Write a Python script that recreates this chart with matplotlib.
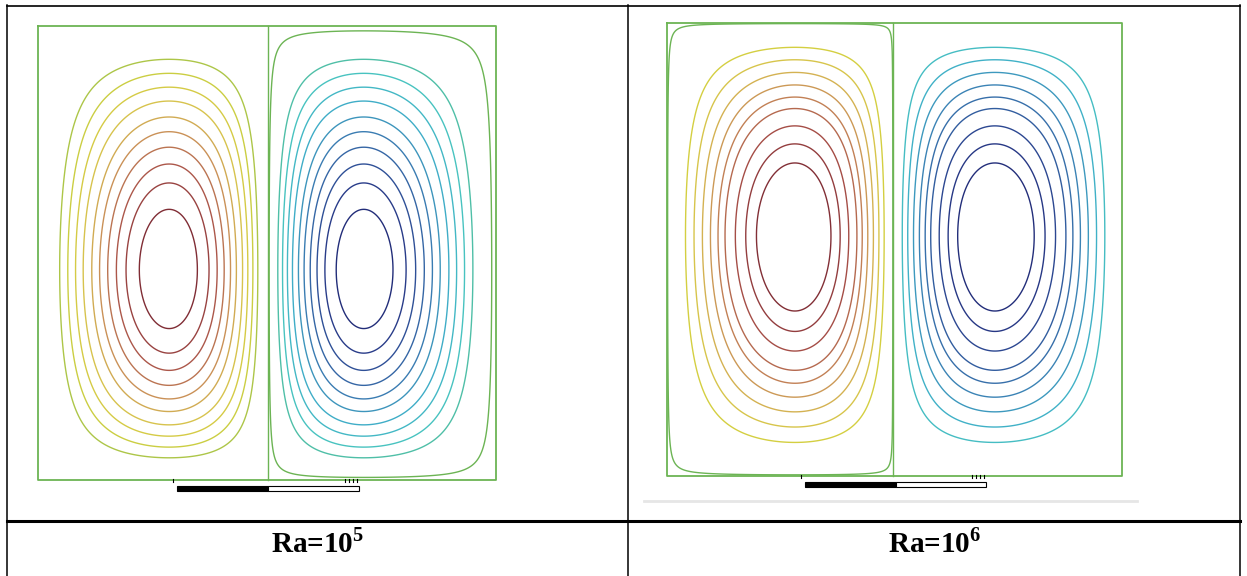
import numpy as np
import matplotlib
matplotlib.use('Agg')
import matplotlib.pyplot as plt
from matplotlib.patches import Rectangle
from matplotlib.colors import LinearSegmentedColormap

plt.rcParams['mathtext.fontset'] = 'custom'
plt.rcParams['mathtext.rm'] = 'Liberation Serif'
plt.rcParams['mathtext.bf'] = 'Liberation Serif:bold'
plt.rcParams['contour.negative_linestyle'] = 'solid'

W, H = 1247, 576

# captions under each picture
labels = ['Ra=10$^{\\mathbf{5}}$', 'Ra=10$^{\\mathbf{6}}$']
label_x = [318, 935]

# picture frames in pixels: left wall, divider, right wall, top, bottom
frames = [(38, 268, 496, 26, 480), (667, 893, 1122, 23, 476)]
# vortex centre as fraction of its half cell (across, down)
centre_hot = [(0.57, 0.537), (0.566, 0.47)]
centre_cold = [(0.42, 0.537), (0.445, 0.47)]
# streamline levels as fraction of max |psi|
levels_1e5 = [0.17, 0.25, 0.33, 0.41, 0.50, 0.58, 0.66, 0.74, 0.82, 0.91]
levels_1e6 = [0.29, 0.39, 0.48, 0.56, 0.63, 0.69, 0.77, 0.84, 0.90]
levels = [levels_1e5, levels_1e6]
# near-wall streamline (the rounded one hugging a cell)
wall_level = [-0.02, 0.02]
# how steep the profile is near the side walls / top-bottom walls
wall_exp_x = [1.0, 0.649]
wall_exp_y = [1.0, 0.8]
# scale bar under each picture: start, middle, end, top (px)
bars = [(177, 268, 359, 486), (805, 896, 986, 482)]

frame_green = '#6cb454'
# muted rainbow as seen in the screenshot
rainbow = LinearSegmentedColormap.from_list('fl', [
    (0.00, '#1c1f6a'), (0.10, '#2a3f8c'), (0.20, '#3a78b0'),
    (0.30, '#3fb0c8'), (0.38, '#48c4c0'), (0.46, '#58b888'),
    (0.50, '#6cb454'), (0.56, '#9cc24c'), (0.64, '#d4d040'),
    (0.72, '#d8c050'), (0.80, '#c88c58'), (0.88, '#a85048'),
    (1.00, '#6a1a2a')])


def stream(frame, hot, cold, a, b):
    x0, xm, x1, y0, y1 = frame
    X, Y = np.meshgrid(np.linspace(x0, x1, 700), np.linspace(y0, y1, 700))
    v = (Y - y0) / (y1 - y0)
    # warm vortex in the left half
    ul = np.clip((X - x0) / (xm - x0), 0, 1)
    ph = np.log(0.5) / np.log(hot[0])
    qh = np.log(0.5) / np.log(hot[1])
    psi_h = np.sin(np.pi * ul ** ph) ** a * np.sin(np.pi * v ** qh) ** b
    # cold vortex in the right half
    ur = np.clip((X - xm) / (x1 - xm), 0, 1)
    pc = np.log(0.5) / np.log(1 - cold[0])
    qc = np.log(0.5) / np.log(cold[1])
    psi_c = np.sin(np.pi * (1 - (1 - ur) ** pc)) ** a * np.sin(np.pi * v ** qc) ** b
    psi = np.where(X <= xm, psi_h, -psi_c)
    return X, Y, psi


fig = plt.figure(figsize=(W / 100, H / 100), dpi=100)
ax = fig.add_axes([0, 0, 1, 1])
ax.set_xlim(0, W)
ax.set_ylim(H, 0)
ax.axis('off')

for i in range(2):
    x0, xm, x1, y0, y1 = frames[i]
    X, Y, psi = stream(frames[i], centre_hot[i], centre_cold[i],
                       wall_exp_x[i], wall_exp_y[i])
    lv = sorted([-l for l in levels[i]] + levels[i])
    ax.contour(X, Y, psi, levels=lv,
               colors=[rainbow(0.5 + 0.5 * l) for l in lv], linewidths=1.0)
    ax.contour(X, Y, psi, levels=[wall_level[i]], colors=[frame_green],
               linewidths=1.0)

    # frame and divider
    ax.plot([x0, x1, x1, x0, x0], [y0, y0, y1, y1, y0], color=frame_green, lw=1.3)
    ax.plot([xm, xm], [y0, y1], color=frame_green, lw=1.0)

    # scale bar
    b0, bm, b1, bt = bars[i]
    ax.add_patch(Rectangle((b0, bt), bm - b0, 5, facecolor='black', edgecolor='black', lw=0.8))
    ax.add_patch(Rectangle((bm, bt), b1 - bm, 5, facecolor='white', edgecolor='black', lw=0.8))
    for tx in [b0 - 4, b1 - 14, b1 - 10, b1 - 6, b1 - 2]:
        ax.plot([tx, tx], [y1 - 1, y1 + 2], color='black', lw=0.8)

    ax.text(label_x[i], 552, labels[i], ha='center', va='baseline',
            fontsize=21, fontweight='bold', family='Liberation Serif')

# light grey edge under the second picture
ax.plot([644, 1137], [501, 501], color='#e6e6e6', lw=2)

# table lines
ax.plot([7, 1240], [5.5, 5.5], color='black', lw=1.2)
ax.plot([7, 1240], [521, 521], color='black', lw=2.2)
for x in [7, 628, 1240]:
    ax.plot([x, x], [5, H], color='black', lw=1.1)

fig.savefig('out.png', dpi=100)
